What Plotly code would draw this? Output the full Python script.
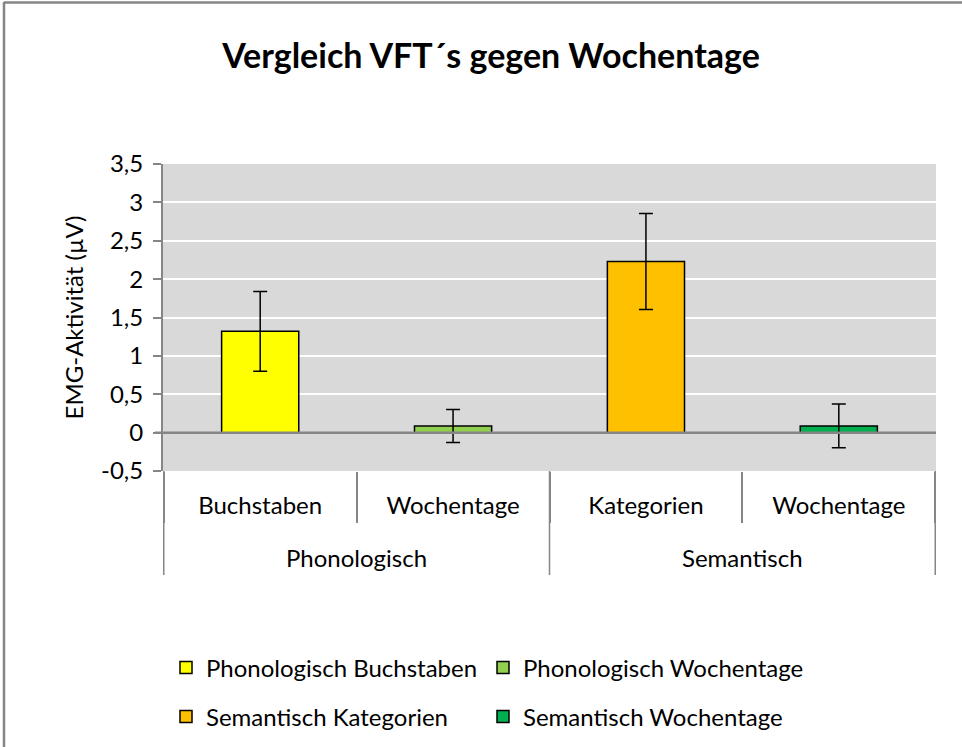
import plotly.graph_objects as go

# ---- data ----
groups = ["Phonologisch", "Phonologisch", "Semantisch", "Semantisch"]
conditions = ["Buchstaben", "Wochentage", "Kategorien", "Wochentage"]
series_names = ["Phonologisch Buchstaben", "Phonologisch Wochentage",
                "Semantisch Kategorien", "Semantisch Wochentage"]
means = [1.32, 0.085, 2.23, 0.087]
errors = [0.52, 0.215, 0.625, 0.285]
colors = ["#FFFF00", "#92D050", "#FFC000", "#00B050"]
group_labels = ["Phonologisch", "Semantisch"]

y_tick_vals = [-0.5, 0, 0.5, 1, 1.5, 2, 2.5, 3, 3.5]
y_tick_labels = ["-0,5", "0", "0,5", "1", "1,5", "2", "2,5", "3", "3,5"]
title_text = "Vergleich VFT´s gegen Wochentage"
y_title = "EMG-Aktivität (µV)"

FONT = "Lato"
GRAY = "#868686"

W, H = 962, 747
L, R, T, B = 163, 26, 164, 276
pw = W - L - R
ph = H - T - B


def py(pix):
    return (H - B - pix) / ph


def px(pix):
    return (pix - L) / pw


legend_pos = [(166, 668), (483, 668), (166, 717), (483, 717)]
legend_ids = ["legend", "legend2", "legend3", "legend4"]

fig = go.Figure()
for i in range(len(means)):
    fig.add_trace(go.Bar(
        x=[series_names[i]],
        y=[means[i]],
        name=series_names[i],
        marker=dict(color=colors[i], line=dict(color="black", width=1.5)),
        width=0.4,
        error_y=dict(type="data", array=[errors[i]], visible=True,
                     color="black", thickness=1.5, width=7),
        legend=legend_ids[i],
        showlegend=True,
    ))

legends = {}
for i, lid in enumerate(legend_ids):
    lx, ly = legend_pos[i]
    legends[lid] = dict(
        orientation="h", x=px(lx), xanchor="left",
        y=py(ly), yanchor="middle",
        font=dict(family=FONT, size=24, color="black"),
        bgcolor="rgba(0,0,0,0)",
    )

# outer group labels (centered under each pair of categories)
annotations = []
for g, lab in enumerate(group_labels):
    annotations.append(dict(
        text=lab, x=2 * g + 0.5, xref="x", y=py(557), yref="paper",
        yanchor="middle", xanchor="center", showarrow=False,
        font=dict(family=FONT, size=24, color="black"),
    ))

shapes = []
# group dividers below the plot
for b in [-0.5, 1.5, 3.5]:
    shapes.append(dict(type="line", xref="x", yref="paper", x0=b, x1=b,
                       y0=0, y1=py(575), line=dict(color=GRAY, width=1.5)))
# zero axis line of the category axis
shapes.append(dict(type="line", xref="paper", yref="y", x0=-8 / pw, x1=1,
                   y0=0, y1=0, line=dict(color=GRAY, width=2.5), layer="above"))
# chart area frame (left and top edges)
shapes.append(dict(type="line", xref="paper", yref="paper",
                   x0=px(4), x1=px(4), y0=py(H), y1=py(2),
                   line=dict(color=GRAY, width=2.5)))
shapes.append(dict(type="line", xref="paper", yref="paper",
                   x0=px(4), x1=px(W), y0=py(2.5), y1=py(2.5),
                   line=dict(color=GRAY, width=2.5)))

fig.update_layout(
    width=W, height=H,
    margin=dict(l=L, r=R, t=T, b=B, autoexpand=False),
    paper_bgcolor="white",
    plot_bgcolor="#D9D9D9",
    barmode="overlay",
    font=dict(family=FONT, size=24, color="black"),
    title=dict(text=title_text, x=491 / W, xanchor="center",
               y=1 - 56 / H, yanchor="middle",
               font=dict(family=FONT, size=34, color="black", weight="bold")),
    xaxis=dict(
        type="category",
        categoryorder="array", categoryarray=series_names,
        tickmode="array", tickvals=series_names, ticktext=conditions,
        showline=False, showgrid=False,
        ticks="outside", tickson="boundaries", ticklen=51,
        tickcolor=GRAY, tickwidth=1.5,
        ticklabelstandoff=18,
        tickfont=dict(family=FONT, size=24, color="black"),
        automargin=False,
    ),
    xaxis2=dict(
        overlaying="x", anchor="free", position=py(433),
        range=[-0.5, 3.5], tickmode="array",
        tickvals=[-0.5, 0.5, 1.5, 2.5, 3.5],
        ticks="outside", ticklen=9, tickcolor=GRAY, tickwidth=2,
        showline=True, linecolor=GRAY, linewidth=2.5,
        showticklabels=False, showgrid=False, zeroline=False,
        fixedrange=True,
    ),
    yaxis=dict(
        range=[-0.5, 3.5],
        tickmode="array", tickvals=y_tick_vals, ticktext=y_tick_labels,
        showgrid=True, gridcolor="white", gridwidth=1.5,
        zeroline=False,
        showline=True, linecolor=GRAY, linewidth=2,
        ticks="outside", ticklen=8, tickcolor=GRAY, tickwidth=2,
        ticklabelstandoff=5,
        tickfont=dict(family=FONT, size=24, color="black"),
        title=dict(text=y_title, font=dict(family=FONT, size=24, color="black"),
                   standoff=11),
        automargin=False,
    ),
    annotations=annotations,
    shapes=shapes,
    **legends,
)

fig.write_html("out.html",
               config={"displayModeBar": False},
               post_script="document.body.style.margin='0px';")
